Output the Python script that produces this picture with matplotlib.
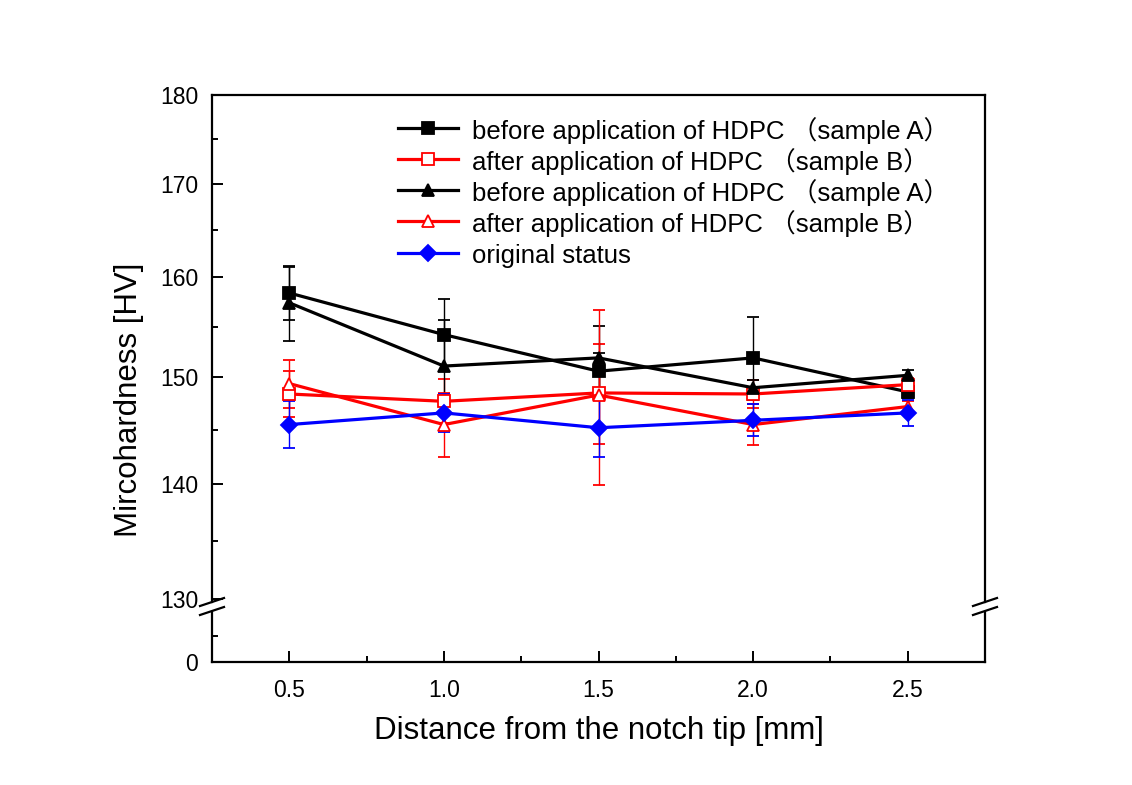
import matplotlib
matplotlib.use("Agg")
import matplotlib.pyplot as plt
from matplotlib.ticker import FixedLocator, FixedFormatter, NullFormatter
from matplotlib.lines import Line2D

plt.rcParams['font.family'] = ['Liberation Sans', 'Noto Sans CJK SC', 'DejaVu Sans']

# ---- data ----
distance = [0.5, 1.0, 1.5, 2.0, 2.5]
before_A_sq = [158.4, 154.2, 150.6, 151.9, 148.6]
before_A_sq_err = [2.7, 3.6, 1.8, 4.1, 0.6]
after_B_sq = [148.4, 147.7, 148.5, 148.4, 149.3]
after_B_sq_err = [2.2, 2.1, 4.8, 1.3, 0.6]
before_A_tri = [157.4, 151.1, 151.9, 149.0, 150.2]
before_A_tri_err = [3.8, 4.6, 3.2, 0.7, 0.5]
after_B_tri = [149.4, 145.5, 148.3, 145.5, 147.2]
after_B_tri_err = [2.3, 3.0, 8.4, 1.9, 0.5]
original = [145.5, 146.6, 145.2, 145.9, 146.6]
original_err = [2.2, 1.8, 2.7, 1.5, 1.2]

labels = ["before application of HDPC \uff08sample A\uff09",
          "after application of HDPC \uff08sample B\uff09",
          "before application of HDPC \uff08sample A\uff09",
          "after application of HDPC \uff08sample B\uff09",
          "original status"]
x_ticks = [0.5, 1.0, 1.5, 2.0, 2.5]
x_tick_labels = ["0.5", "1.0", "1.5", "2.0", "2.5"]
y_ticks_upper = [130, 140, 150, 160, 170, 180]

W, H = 1132, 785
fig = plt.figure(figsize=(W / 100, H / 100), dpi=100)

def fx(px):
    return px / W

def fy(py):
    return 1 - py / H

left, right = 212, 985
up_top, up_bot = 95, 602
lo_top, lo_bot = 612, 662

ax = fig.add_axes([fx(left), fy(up_bot), fx(right) - fx(left), fy(up_top) - fy(up_bot)])
axl = fig.add_axes([fx(left), fy(lo_bot), fx(right) - fx(left), fy(lo_top) - fy(lo_bot)], sharex=ax)

series = [
    (before_A_sq, before_A_sq_err, 'black', 's', 'black'),
    (after_B_sq, after_B_sq_err, 'red', 's', 'white'),
    (before_A_tri, before_A_tri_err, 'black', '^', 'black'),
    (after_B_tri, after_B_tri_err, 'red', '^', 'white'),
    (original, original_err, 'blue', 'D', 'blue'),
]
legend_rows = [128, 159, 190, 221, 253]
for (vals, errs, col, mk, face), lab, ry in zip(series, labels, legend_rows):
    ms = 9 if mk != 'D' else 8
    ax.errorbar(distance, vals, yerr=errs, color=col, lw=2.3, marker=mk, ms=ms,
                mfc=face, mec=col, mew=1.3, elinewidth=1.0, capsize=4, capthick=1.0,
                ecolor=col)
    # legend entry
    fig.add_artist(Line2D([fx(398), fx(458)], [fy(ry), fy(ry)], color=col, lw=2.3,
                          transform=fig.transFigure))
    fig.add_artist(Line2D([fx(428)], [fy(ry)], color=col, marker=mk, ms=ms, mfc=face,
                          mec=col, mew=1.3, transform=fig.transFigure))
    fig.text(fx(472), fy(ry), lab, fontsize=18.5, ha='left', va='center_baseline')

ax.set_yscale('log')
ax.set_ylim(129.75, 180)
ax.yaxis.set_major_locator(FixedLocator(y_ticks_upper))
ax.yaxis.set_major_formatter(FixedFormatter([str(v) for v in y_ticks_upper]))
ax.yaxis.set_minor_locator(FixedLocator([135, 145, 155, 165, 175]))
ax.yaxis.set_minor_formatter(NullFormatter())
ax.set_xlim(0.25, 2.75)

axl.set_ylim(0, 9.6)
axl.set_yticks([0])
axl.set_yticklabels(["0"])
axl.yaxis.set_minor_locator(FixedLocator([5]))
axl.set_xticks(x_ticks)
axl.set_xticklabels(x_tick_labels)
axl.xaxis.set_minor_locator(FixedLocator([0.75, 1.25, 1.75, 2.25]))

for a in (ax, axl):
    for s in a.spines.values():
        s.set_linewidth(1.6)
    a.tick_params(which='major', direction='in', length=8, width=1.4, labelsize=16.5, pad=10)
    a.tick_params(which='minor', direction='in', length=4.5, width=1.4)
    a.tick_params(axis='x', which='both', top=False)
    a.tick_params(axis='y', which='both', right=False)

ax.spines['bottom'].set_visible(False)
ax.tick_params(axis='x', which='both', bottom=False, labelbottom=False)
axl.spines['top'].set_visible(False)
axl.tick_params(axis='x', which='major', pad=12)

# break marks
for xc in (left, right):
    for yc in (up_bot, lo_top - 1):
        fig.add_artist(Line2D([fx(xc - 12), fx(xc + 12)], [fy(yc + 4), fy(yc - 4)],
                              color='black', lw=1.6, transform=fig.transFigure))

fig.text(fx(129), fy(400), "Mircohardness [HV]", rotation=90, fontsize=22.5,
         ha='center', va='center')
fig.text(fx(599), fy(731), "Distance from the notch tip [mm]", fontsize=22.5,
         ha='center', va='center')

fig.savefig("out.png", dpi=100)
